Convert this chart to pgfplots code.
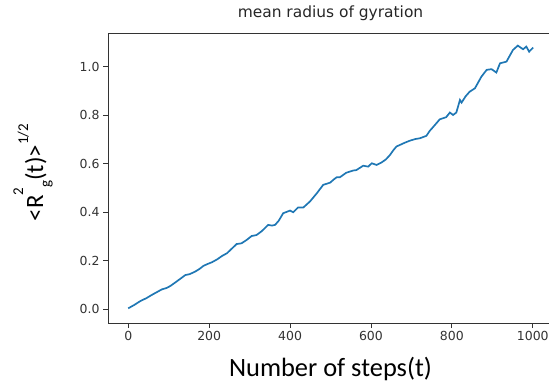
\documentclass[border=0pt]{standalone}
\usepackage{fontspec}
\setmainfont{DejaVu Sans}
\newfontfamily\calfont{Carlito}
\usepackage{pgfplots}
\pgfplotsset{compat=1.18}
\definecolor{mplblue}{HTML}{1F77B4}
\definecolor{spine}{HTML}{333333}
\newcommand\rsup[2]{\raisebox{#1}{\fontsize{15}{15}\selectfont #2}}
\begin{document}
\begin{tikzpicture}
\begin{axis}[
  scale only axis,
  width=445bp, height=290bp,
  anchor=south west, at={(108bp,64bp)},
  xmin=-50, xmax=1050,
  ymin=-0.0565, ymax=1.139,
  xtick={0,200,400,600,800,1000},
  ytick={0,0.2,0.4,0.6,0.8,1.0},
  xticklabel style={/pgf/number format/.cd,1000 sep={}},
  yticklabel style={/pgf/number format/.cd,fixed,fixed zerofill,precision=1},
  /pgf/number format/assume math mode=true,
  tick align=outside,
  tick pos=left,
  major tick length=5bp,
  tick style={spine, line width=0.8pt},
  axis line style={spine, line width=0.8pt},
  ticklabel style={font=\fontsize{12.5}{14}\selectfont, text=black!80},
  title={mean radius of gyration},
  title style={font=\fontsize{15.5}{18}\selectfont, text=black!85, at={(axis description cs:0.5,1)}, anchor=south, yshift=3bp},
  xlabel={Number of steps(t)},
  xlabel style={font=\calfont\fontsize{26.5}{30}\selectfont, at={(axis description cs:0.5,-0.186)}, anchor=base},
  ylabel={<R\rsup{20bp}{2}\rsup{-7bp}{g}(t)>\rsup{15bp}{1/2}},
  ylabel style={font=\calfont\fontsize{25}{30}\selectfont, at={(axis description cs:-0.146,0.519)}, anchor=base},
]
\addplot[mplblue, line width=1.7pt] coordinates {
(0,0.004) (15,0.018) (30,0.034) (45,0.046) (58,0.059) (70,0.070) (83,0.082) (95,0.088) (104,0.096)
(120,0.115) (141,0.141) (152,0.145) (165,0.155) (175,0.165) (186,0.179) (195,0.186) (207,0.194)
(220,0.206) (232,0.220) (244,0.231) (256,0.250) (268,0.269) (280,0.272) (292,0.285) (305,0.302)
(317,0.306) (330,0.322) (346,0.348) (355,0.345) (363,0.348) (372,0.365) (383,0.396) (400,0.407)
(408,0.400) (420,0.420) (433,0.420) (449,0.444) (458,0.462) (466,0.478) (482,0.513) (499,0.522)
(508,0.535) (515,0.544) (523,0.544) (539,0.563) (556,0.572) (564,0.574) (581,0.592) (593,0.588)
(602,0.602) (614,0.595) (626,0.605) (637,0.618) (647,0.636) (655,0.655) (663,0.671) (684,0.687)
(696,0.695) (710,0.702) (721,0.705) (737,0.715) (745,0.735) (753,0.750) (770,0.783) (786,0.792)
(795,0.811) (803,0.801) (811,0.811) (820,0.863) (824,0.852) (834,0.878) (844,0.897) (857,0.911)
(865,0.935) (873,0.959) (886,0.987) (898,0.990) (910,0.976) (919,1.014) (935,1.021) (943,1.045)
(951,1.069) (963,1.087) (976,1.072) (984,1.083) (991,1.062) (1001,1.079)
};
\end{axis}
\pgfresetboundingbox
\path (0,0) rectangle (549bp,387bp);
\end{tikzpicture}
\end{document}
